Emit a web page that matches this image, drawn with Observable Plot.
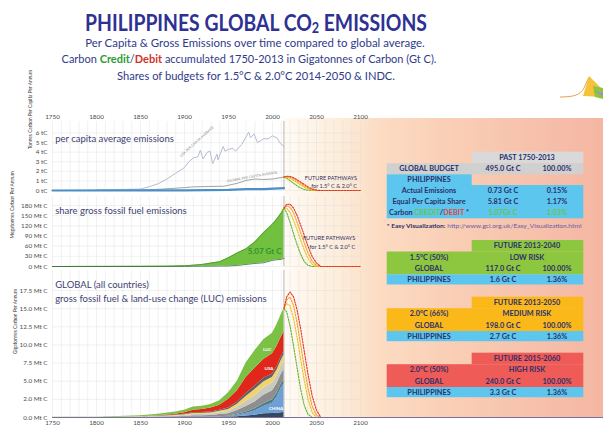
<!DOCTYPE html>
<html><head><meta charset="utf-8">
<script src="https://cdn.jsdelivr.net/npm/d3@7"></script>
<script src="https://cdn.jsdelivr.net/npm/@observablehq/plot@0.6"></script>
<style>
body{margin:0;background:#fff;font-family:Lato,"Open Sans",sans-serif;}
#root{position:relative;width:603px;height:427px;overflow:hidden;background:#fff;}
</style></head><body><div id="root"></div>
<script>
// ---------- DATA ----------
const xTickYears = [1750, 1800, 1850, 1900, 1950, 2000, 2050, 2100];
const gridYears = d3.range(1750, 2101, 10);

// panel 1: per capita (tC per capita per annum)
const pcTicks = [0, 1, 2, 3, 4, 5, 6];
const pcTickLabels = ["0 tC", "1 tC", "2 tC", "3 tC", "4 tC", "5 tC", "6 tC"];
const usaPcYears = [1800,1850,1860,1870,1880,1890,1900,1905,1910,1915,1918,1921,1926,1929,1932,1937,1938,1941,1944,1946,1950,1955,1958,1965,1970,1973,1975,1979,1983,1990,1995,2000,2005,2009,2013];
const usaPc = [0.05,0.15,0.4,0.7,1.2,1.8,2.4,3.0,3.4,3.5,4.2,3.3,4.0,4.1,2.8,3.8,3.2,3.9,4.6,4.1,4.3,4.4,4.1,4.8,5.6,6.1,5.5,5.9,5.0,5.4,5.4,5.7,5.5,4.9,4.6];
const globalPcYears = [1750,1800,1850,1870,1900,1910,1930,1945,1950,1960,1970,1980,1990,2000,2013];
const globalPc = [0.0,0.02,0.06,0.12,0.3,0.38,0.42,0.45,0.55,0.75,1.05,1.2,1.15,1.2,1.4];
const phlPcYears = [1750,1900,1950,1970,1990,2013];
const phlPc = [0.0,0.02,0.06,0.15,0.15,0.25];

// panel 2: Philippines share vs actual fossil emissions (Mt C)
const mtTicks = [0, 30, 60, 90, 120, 150, 180];
const mtTickLabels = ["0 Mt C", "30 Mt C", "60 Mt C", "90 Mt C", "120 Mt C", "150 Mt C", "180 Mt C"];
const phlYears = [1750,1850,1880,1900,1910,1920,1930,1940,1950,1960,1970,1980,1990,2000,2005,2010,2013];
const phlShare = [0,0.5,1,2,4,6,10,14,26,40,52,72,100,125,140,158,172];
const phlActual = [0,0,0.1,0.3,0.5,0.8,1,1.2,1.5,3,6,9,11,18,20,21,24];

// panel 3: global stacked emissions
const gTicks = [0, 2.5, 5, 7.5, 10, 12.5, 15, 17.5];
const gTickLabels = ["0.0 Mt C", "2.0 Mt C", "5.0 Mt C", "7.5 Mt C", "10.0 Mt C", "12.5 Mt C", "15.0 Mt C", "17.5 Mt C"];
const stackYears = [1750,1800,1850,1870,1890,1900,1910,1920,1930,1940,1950,1960,1970,1980,1990,2000,2005,2010,2013];
const otherLow  = [0,0,0,0,0,0.02,0.03,0.03,0.04,0.05,0.07,0.12,0.2,0.3,0.5,0.55,0.6,0.65,0.7];
const chinaE    = [0,0,0,0,0,0,0,0,0,0.02,0.04,0.2,0.35,0.6,1.0,1.4,2.2,3.4,3.9];
const asiaE     = [0,0,0,0,0,0,0,0.02,0.03,0.05,0.07,0.13,0.2,0.3,0.4,0.5,0.55,0.6,0.6];
const grayE     = [0,0.01,0.03,0.07,0.1,0.13,0.2,0.2,0.22,0.28,0.35,0.5,0.75,0.95,1.15,1.25,1.3,1.35,1.4];
const lightE    = [0,0,0.03,0.06,0.09,0.12,0.17,0.18,0.19,0.25,0.3,0.45,0.7,0.85,1.0,1.05,1.05,1.1,1.2];
const yellowE   = [0,0,0.03,0.05,0.08,0.1,0.14,0.15,0.15,0.2,0.27,0.42,0.7,0.85,0.85,0.8,0.8,0.8,0.8];
const darkE     = [0,0,0,0.03,0.06,0.08,0.11,0.12,0.12,0.15,0.2,0.28,0.4,0.45,0.5,0.45,0.5,0.5,0.5];
const usaE      = [0,0,0.01,0.04,0.12,0.2,0.35,0.4,0.55,0.7,1.2,1.6,2.2,2.5,2.6,2.8,2.8,2.7,2.7];
const lucE      = [0.02,0.04,0.15,0.2,0.3,0.35,0.45,0.45,0.5,0.6,0.9,1.3,2.0,2.4,2.7,2.8,3.0,3.1,3.2];
const layerNames = ["Other", "China", "Asia", "Rest A", "Rest B", "Europe", "Russia", "USA", "LUC"];
const layerValues = [otherLow, chinaE, asiaE, grayE, lightE, yellowE, darkE, usaE, lucE];
const layerColors = ["#34495e", "#6e9fd6", "#4f7f86", "#8e8e8e", "#c9c9c2", "#f0d36c", "#5c6168", "#e1261c", "#7bc143"];

// future pathways (green 1.5C, yellow, orange, red 2.0C 50%)
const pathYears = [2013, 2016, 2020, 2024, 2028, 2032, 2036, 2040, 2045, 2050, 2055, 2100];
const pcPaths = [
  [1.4, 1.28, 1.02, 0.74, 0.48, 0.26, 0.11, 0.03, 0, 0, 0, 0],
  [1.4, 1.38, 1.25, 1.05, 0.82, 0.58, 0.36, 0.17, 0.04, 0, 0, 0],
  [1.4, 1.44, 1.38, 1.22, 0.98, 0.74, 0.5, 0.28, 0.1, 0.01, 0, 0],
  [1.4, 1.48, 1.46, 1.33, 1.12, 0.88, 0.64, 0.4, 0.17, 0.04, 0, 0]
];
const mtPaths = [
  [172, 160, 130, 96, 64, 36, 15, 4, 0, 0, 0, 0],
  [172, 172, 160, 136, 108, 78, 50, 26, 7, 0, 0, 0],
  [172, 179, 175, 158, 130, 100, 70, 42, 16, 3, 0, 0],
  [172, 183, 184, 172, 150, 122, 92, 62, 30, 10, 0, 0]
];
const gPaths = [
  [15.0, 14.6, 12.6, 9.8, 6.8, 3.9, 1.7, 0.5, 0.0, 0, 0, 0],
  [15.0, 15.7, 15.4, 13.6, 11.0, 8.0, 5.2, 2.7, 0.7, 0.0, 0, 0],
  [15.0, 16.2, 16.6, 15.4, 13.0, 10.0, 7.0, 4.2, 1.6, 0.3, 0, 0],
  [15.0, 16.6, 17.3, 16.6, 14.8, 12.2, 9.2, 6.2, 3.0, 1.0, 0, 0]
];
const pathColors = ["#5db531", "#e6c21c", "#f29a1e", "#e5332a"];

// tables
const pastLabels = ["Actual Emissions", "Equal Per Capita Share", "Carbon CREDIT/DEBIT *"];
const pastValues = ["0.73 Gt C", "5.81 Gt C", "5.07Gt C"];
const pastPct = ["0.15%", "1.17%", "1.03%"];
const futureHeaders = ["FUTURE 2013-2040", "FUTURE 2013-2050", "FUTURE 2015-2060"];
const futureScen = ["1.5°C (50%)", "2.0°C (66%)", "2.0°C (50%)"];
const futureRisk = ["LOW RISK", "MEDIUM RISK", "HIGH RISK"];
const futureGlobal = ["117.0 Gt C", "198.0 Gt C", "240.0 Gt C"];
const futurePhl = ["1.6 Gt C", "2.7 Gt C", "3.3 Gt C"];
const futurePhlPct = ["1.36%", "1.36%", "1.36%"];
const futureColors = ["#8dc63f", "#fbb819", "#ef5b57"];

// ---------- BUILD ----------
const rowsOf = (xs, ys) => xs.map((x, i) => ({x, y: ys[i]}));
const root = d3.select("#root");
root.append("div").style("position","absolute").style("left","283px").style("top","118px")
  .style("width","320px").style("height","299px")
  .style("background","linear-gradient(to right, #fffbf5 0%, #fdecd9 18%, #fcdcc3 30%, #f9cdb4 55%, #f4b6a2 100%)");

const baseStyle = {background: "transparent", fontFamily: "Lato, sans-serif", fontSize: "6.3px", color: "#4a4a4a", overflow: "visible"};
const X0 = 1750, X1 = 2100;
const common = {width: 603, marginLeft: 52, marginRight: 243, style: baseStyle};
const gridMarks = (ticks) => [
  Plot.ruleX(gridYears, {stroke: "#dcdcdc", strokeWidth: 0.5, strokeOpacity: 0.8}),
  Plot.ruleY(ticks, {stroke: "#dcdcdc", strokeWidth: 0.5, strokeOpacity: 0.8}),
  Plot.ruleX([2013], {stroke: "#aaaaaa", strokeWidth: 0.8})
];
const pathMarks = (list) => list.map((vals, i) => Plot.line(rowsOf(pathYears, vals),
  {x: "x", y: "y", stroke: pathColors[i], strokeWidth: 1.1, strokeDasharray: "1.6,1.3"}));
const yTitle = (t, dx, dy) => Plot.text([t], {frameAnchor: "left", text: d => d, rotate: -90, dx, dy, fontSize: 4.8, fill: "#333"});
const navyText = "#3d4170";

const p1 = Plot.plot({
  ...common, height: 94, marginTop: 21, marginBottom: 4,
  x: {domain: [X0, X1], axis: "top", ticks: xTickYears, tickFormat: d => String(d), tickSize: 0, tickPadding: 3, label: null},
  y: {domain: [0, 7.2], ticks: pcTicks, tickFormat: d => pcTickLabels[pcTicks.indexOf(d)], tickSize: 0, tickPadding: 5, label: null},
  marks: [
    ...gridMarks(pcTicks),
    Plot.line(rowsOf(usaPcYears, usaPc), {x: "x", y: "y", stroke: "#b6bcd2", strokeWidth: 1}),
    Plot.line(rowsOf(globalPcYears, globalPc), {x: "x", y: "y", stroke: "#a2a2a2", strokeWidth: 1}),
    Plot.line(rowsOf(phlPcYears, phlPc), {x: "x", y: "y", stroke: "#4a8fc8", strokeWidth: 2.2}),
    ...pathMarks(pcPaths),
    Plot.text(["USA PER CAPITA AVERAGE"], {x: 1914, y: 5.1, text: d => d, rotate: -42, fontSize: 3.6, fill: "#8a8a8a"}),
    Plot.text(["GLOBAL PER CAPITA AVERAGE"], {x: 1977, y: 1.45, text: d => d, rotate: -10, fontSize: 3.6, fill: "#8a8a8a"}),
    Plot.text(["per capita average emissions"], {x: 1753, y: 5.43, text: d => d, textAnchor: "start", fontSize: 9.5, fill: navyText}),
    Plot.text(["FUTURE PATHWAYS"], {x: 2096, y: 1.25, text: d => d, textAnchor: "end", fontSize: 5.6, fill: "#2f2f5f"}),
    Plot.text(["for 1.5° C & 2.0° C"], {x: 2096, y: 0.42, text: d => d, textAnchor: "end", fontSize: 5.6, fill: "#2f2f5f"}),
    yTitle("Tonnes Carbon Per Capita Per Annum", -22, -7)
  ]
});

const phlRows = phlYears.map((year, i) => ({year, share: phlShare[i], actual: phlActual[i]}));
const p2 = Plot.plot({
  ...common, height: 74, marginTop: 2, marginBottom: 2,
  x: {domain: [X0, X1], axis: null},
  y: {domain: [0, 206.5], ticks: mtTicks, tickFormat: d => mtTickLabels[mtTicks.indexOf(d)], tickSize: 0, tickPadding: 5, label: null},
  marks: [
    ...gridMarks(mtTicks),
    Plot.areaY(phlRows, {x: "year", y1: "actual", y2: "share", fill: "#72c040"}),
    Plot.line(phlRows, {x: "year", y: "share", stroke: "#4c9a2a", strokeWidth: 0.8}),
    Plot.line(phlRows, {x: "year", y: "actual", stroke: "#2f6f3a", strokeWidth: 0.8}),
    ...pathMarks(mtPaths),
    Plot.text(["5.07 Gt C"], {x: 1991, y: 44, text: d => d, fontSize: 8, fontWeight: "bold", fill: "#2f932f"}),
    Plot.text(["share gross fossil fuel emissions"], {x: 1753, y: 165, text: d => d, textAnchor: "start", fontSize: 9.5, fill: navyText}),
    Plot.text(["FUTURE PATHWAYS"], {x: 2094, y: 83, text: d => d, textAnchor: "end", fontSize: 5.6, fill: "#2f2f5f"}),
    Plot.text(["for 1.5° C & 2.0° C"], {x: 2094, y: 57, text: d => d, textAnchor: "end", fontSize: 5.6, fill: "#2f2f5f"}),
    yTitle("Megatonnes Carbon Per Annum", -40, 7)
  ]
});

const stackRows = [];
layerNames.forEach((name, li) => stackYears.forEach((year, i) => stackRows.push({year, layer: name, value: layerValues[li][i]})));
const p3 = Plot.plot({
  ...common, height: 159, marginTop: 2, marginBottom: 10,
  x: {domain: [X0, X1], axis: "bottom", ticks: xTickYears, tickFormat: d => String(d), tickSize: 0, tickPadding: 3, label: null},
  y: {domain: [0, 20.26], ticks: gTicks, tickFormat: d => gTickLabels[gTicks.indexOf(d)], tickSize: 0, tickPadding: 5, label: null},
  color: {domain: layerNames, range: layerColors},
  marks: [
    ...gridMarks(gTicks),
    Plot.areaY(stackRows, {x: "year", y: "value", fill: "layer", order: layerNames}),
    ...pathMarks(gPaths),
    Plot.text(["LUC"], {x: 1994, y: 9.3, text: d => d, fontSize: 4.5, fontWeight: "bold", fill: "white"}),
    Plot.text(["USA"], {x: 1996, y: 6.7, text: d => d, fontSize: 4.5, fontWeight: "bold", fill: "white"}),
    Plot.text(["CHINA"], {x: 2004, y: 1.3, text: d => d, fontSize: 4.5, fontWeight: "bold", fill: "white"}),
    Plot.text(["GLOBAL (all countries)"], {x: 1753, y: 18.2, text: d => d, textAnchor: "start", fontSize: 9.5, fill: navyText}),
    Plot.text(["gross fossil fuel & land-use change (LUC) emissions"], {x: 1753, y: 16.4, text: d => d, textAnchor: "start", fontSize: 9.5, fill: navyText}),
    yTitle("Gigatonnes Carbon Per Annum", -37, 10)
  ]
});

[[p1, 100], [p2, 194], [p3, 268]].forEach(([p, top]) => {
  p.style.position = "absolute"; p.style.left = "0px"; p.style.top = top + "px";
  root.node().appendChild(p);
});
root.append("div").style("position","absolute").style("left","52px").style("top","416.5px")
  .style("width","551px").style("height","1.2px").style("background","#7d6f9b");

// ---------- overlay: titles, tables, logo ----------
const ov = root.append("svg").attr("width", 603).attr("height", 427)
  .style("position","absolute").style("left","0").style("top","0");
const navy = "#2e3192", sub = "#2f3a8a";
const FF = "Lato, sans-serif";
// fit a text element to a target width by uniform horizontal scaling
function fit(sel, x, y, target) {
  const len = sel.node().getComputedTextLength();
  sel.attr("x", 0).attr("y", 0).attr("transform", `translate(${x},${y}) scale(${target / len},1)`);
  return sel;
}
const t0 = ov.append("text").attr("text-anchor", "middle").attr("font-family", FF)
  .attr("font-weight", 700).attr("font-size", 23).attr("fill", navy);
t0.append("tspan").text("PHILIPPINES GLOBAL CO");
t0.append("tspan").attr("font-size", 15).attr("dy", 2).text("2");
t0.append("tspan").attr("dy", -2).text(" EMISSIONS");
fit(t0, 256, 30.5, 342);
const subLine = () => ov.append("text").attr("text-anchor", "middle").attr("font-family", FF).attr("font-size", 12).attr("fill", sub);
fit(subLine().text("Per Capita & Gross Emissions over time compared to global average."), 255, 46.5, 340);
const s2 = subLine();
s2.append("tspan").text("Carbon ");
s2.append("tspan").attr("fill", "#2e9a34").attr("font-weight", 700).text("Credit");
s2.append("tspan").text("/");
s2.append("tspan").attr("fill", "#d2302a").attr("font-weight", 700).text("Debit");
s2.append("tspan").text(" accumulated 1750-2013 in Gigatonnes of Carbon (Gt C).");
fit(s2, 249, 63, 375);
fit(subLine().text("Shares of budgets for 1.5°C & 2.0°C 2014-2050 & INDC."), 256, 79.5, 278);

// logo
const lg = ov.append("g");
lg.append("path").attr("d", "M560,97 C574,97 580,95 584,88 L589,77").attr("fill", "none").attr("stroke", "#e3a24a").attr("stroke-width", 1);
lg.append("path").attr("d", "M589,76 L583,96 L603,97 L603,90 Z").attr("fill", "#f5c23a");
lg.append("path").attr("d", "M593,86 L603,88 L603,99 L595,97 Z").attr("fill", "#8cc63f");
lg.append("path").attr("d", "M594,91 L603,93 L603,96 Z").attr("fill", "#a28bc9");

// tables
const c0 = 386.7, c1 = 471.7, c3 = 583.3;
const colX = [429, 503, 557];
const tcol = "#2d2f6a", blue = "#5cc6ee";
const rect = (x, y, w, h, f) => ov.append("rect").attr("x", x).attr("y", y).attr("width", w).attr("height", h).attr("fill", f);
const ctext = (x, y, s, fill = tcol) => ov.append("text").attr("x", x).attr("y", y).attr("dy", "0.35em").attr("text-anchor", "middle")
  .attr("font-family", FF).attr("font-weight", 700).attr("font-size", 7.3).attr("fill", fill).text(s);

rect(c1, 151.7, c3 - c1, 11.6, "#d9d9d9");
ctext(527, 157.5, "PAST 1750-2013");
rect(c0, 163.3, c3 - c0, 11, "#d0d0d0");
ctext(colX[0], 168.8, "GLOBAL BUDGET"); ctext(colX[1], 168.8, "495.0 Gt C"); ctext(colX[2], 168.8, "100.00%");
rect(c0, 174.3, c1 - c0, 10.7, blue);
ctext(colX[0], 179.6, "PHILIPPINES");
rect(c0, 185, c3 - c0, 33.3, blue);
const pastY = [190.5, 201.7, 212.9];
pastLabels.forEach((lab, i) => {
  const green = i === 2 ? "#6cc24a" : tcol;
  if (i === 2) {
    const t = ctext(colX[0], pastY[i], "");
    t.append("tspan").text("Carbon ");
    t.append("tspan").attr("fill", "#6cc24a").text("CREDIT");
    t.append("tspan").text("/");
    t.append("tspan").attr("fill", "#e8413c").text("DEBIT");
    t.append("tspan").text(" *");
  } else ctext(colX[0], pastY[i], lab);
  ctext(colX[1], pastY[i], pastValues[i], green);
  ctext(colX[2], pastY[i], pastPct[i], green);
});
const fn = ov.append("text").attr("font-family", FF).attr("font-size", 5.8);
fn.append("tspan").attr("font-weight", 700).attr("fill", tcol).text("* Easy Visualization:");
fn.append("tspan").attr("fill", "#6a5aa8").text("  http://www.gci.org.uk/Easy_Visualization.html");
fit(fn, c0, 228, 195);

const futTops = [240, 296.7, 352.7];
futTops.forEach((T, i) => {
  rect(c1, T, c3 - c1, 11.5, futureColors[i]);
  ctext(527, T + 5.75, futureHeaders[i]);
  rect(c0, T + 11.5, c3 - c0, 22.8, futureColors[i]);
  ctext(colX[0], T + 17.2, futureScen[i]);
  ctext(527, T + 17.2, futureRisk[i]);
  ctext(colX[0], T + 28.6, "GLOBAL"); ctext(colX[1], T + 28.6, futureGlobal[i]); ctext(colX[2], T + 28.6, "100.00%");
  rect(c0, T + 34.3, c3 - c0, 10.2, blue);
  ctext(colX[0], T + 39.4, "PHILIPPINES"); ctext(colX[1], T + 39.4, futurePhl[i]); ctext(colX[2], T + 39.4, futurePhlPct[i]);
});
</script></body></html>
